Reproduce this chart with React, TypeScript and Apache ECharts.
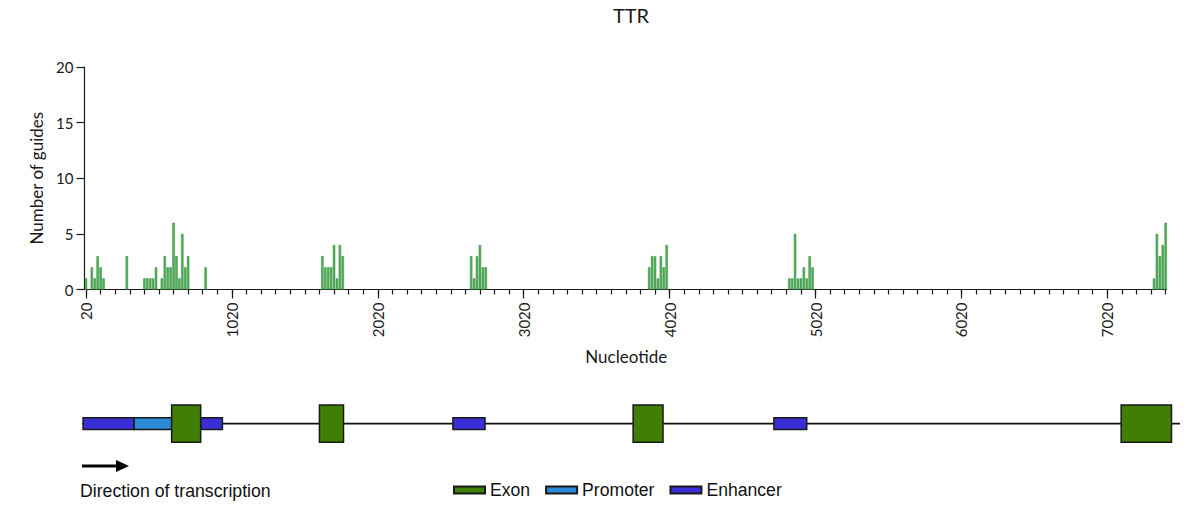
import React, { useEffect, useRef } from "react";
import * as echarts from "echarts";

// ---- Data ----
const geneName = "TTR";
const guidePositions = [
  20, 60, 80, 100, 120, 140, 300, 420, 440, 460, 480, 500, 540, 560, 580, 600, 620, 640, 660, 680, 700, 720, 840,
  1640, 1660, 1680, 1700, 1720, 1740, 1760, 1780,
  2660, 2680, 2700, 2720, 2740, 2760,
  3880, 3900, 3920, 3940, 3960, 3980, 4000,
  4840, 4860, 4880, 4900, 4920, 4940, 4960, 4980, 5000,
  7340, 7360, 7380, 7400, 7420,
];
const guideCounts = [
  1, 2, 1, 3, 2, 1, 3, 1, 1, 1, 1, 2, 1, 3, 2, 2, 6, 3, 1, 5, 2, 3, 2,
  3, 2, 2, 2, 4, 1, 4, 3,
  3, 1, 3, 4, 2, 2,
  2, 3, 3, 1, 3, 2, 4,
  1, 1, 5, 1, 1, 2, 1, 3, 2,
  1, 5, 3, 4, 6,
];
const xTickLabels = [20, 1020, 2020, 3020, 4020, 5020, 6020, 7020];
const yTicks = [0, 5, 10, 15, 20];

const exons = [
  [607, 806],
  [1620, 1785],
  [3770, 3975],
  [7115, 7460],
];
const promoters = [[350, 607]];
const enhancers = [
  [0, 350],
  [806, 955],
  [2535, 2755],
  [4735, 4960],
];
const geneSpan = [-5, 7518];

const X_MIN = 20;
const X_MAX = 7425;

const FONT = "Lato";
const FONT2 = "Liberation Sans";

export default function App() {
  const ref = useRef<HTMLDivElement>(null);

  useEffect(() => {
    if (!ref.current) return;
    const chart = echarts.init(ref.current, undefined, { renderer: "svg" });

    const minorTicks: number[] = [];
    for (let v = X_MIN; v <= X_MAX; v += 100) minorTicks.push(v);

    const rectSeries = (name: string, data: number[][], color: string, half: number, z: number) => ({
      name,
      type: "custom",
      xAxisIndex: 2,
      yAxisIndex: 1,
      z,
      itemStyle: { color, borderColor: "#1a1a1a", borderWidth: 1.5 },
      data,
      encode: { x: [0, 1] },
      renderItem: (params: any, api: any) => {
        const s = api.coord([api.value(0), 0]);
        const e = api.coord([api.value(1), 0]);
        return {
          type: "rect",
          shape: { x: s[0], y: s[1] - half, width: e[0] - s[0], height: half * 2 },
          style: { fill: color, stroke: "#1a1a1a", lineWidth: 1.5 },
        };
      },
    });

    const option: any = {
      animation: false,
      title: {
        text: geneName,
        left: 626,
        textAlign: "center",
        top: 0,
        textStyle: { fontFamily: FONT, fontSize: 20, fontWeight: "normal", color: "#1a1a1a" },
      },
      legend: {
        data: ["Exon", "Promoter", "Enhancer"],
        left: 453,
        top: 481,
        padding: 0,
        icon: "rect",
        itemWidth: 31,
        itemHeight: 7,
        itemGap: 15,
        textStyle: { fontFamily: FONT2, fontSize: 17.6, color: "#111" },
        selectedMode: false,
      },
      grid: [
        { left: 86, right: 1200 - 1166.4, top: 67, bottom: 505 - 289.5 },
        { left: 78.7, right: 18.3, top: 405, height: 37.3 },
      ],
      xAxis: [
        {
          type: "value",
          gridIndex: 0,
          min: X_MIN,
          max: X_MAX,
          position: "bottom",
          name: "Nucleotide",
          nameLocation: "middle",
          nameGap: 58,
          nameTextStyle: { fontFamily: FONT, fontSize: 17, color: "#1a1a1a" },
          axisLine: { show: true, lineStyle: { color: "#1a1a1a", width: 1.2 } },
          axisTick: { show: true, customValues: minorTicks, length: 5, lineStyle: { color: "#1a1a1a", width: 1.2 } },
          axisLabel: {
            customValues: xTickLabels,
            formatter: (v: number) => String(v),
            rotate: 90,
            margin: 13,
            fontFamily: FONT,
            fontSize: 15,
            color: "#1a1a1a",
          },
          splitLine: { show: false },
        },
        {
          type: "value",
          gridIndex: 0,
          min: X_MIN,
          max: X_MAX,
          position: "bottom",
          axisLine: { show: false },
          axisTick: { show: true, customValues: xTickLabels, length: 9, lineStyle: { color: "#1a1a1a", width: 1.2 } },
          axisLabel: { show: false },
          splitLine: { show: false },
        },
        {
          type: "value",
          gridIndex: 1,
          min: -30,
          max: 7530,
          show: false,
        },
      ],
      yAxis: [
        {
          type: "value",
          gridIndex: 0,
          min: yTicks[0],
          max: yTicks[yTicks.length - 1],
          interval: 5,
          offset: 1.5,
          name: "Number of guides",
          nameLocation: "middle",
          nameGap: 39,
          nameTextStyle: { fontFamily: FONT, fontSize: 17, color: "#1a1a1a" },
          axisLine: { show: true, lineStyle: { color: "#1a1a1a", width: 1.2 } },
          axisTick: { show: true, length: 8, lineStyle: { color: "#1a1a1a", width: 1.2 } },
          axisLabel: { margin: 11, fontFamily: FONT, fontSize: 15, color: "#1a1a1a" },
          splitLine: { show: false },
        },
        { type: "value", gridIndex: 1, min: -1, max: 1, show: false },
      ],
      series: [
        {
          name: "Guides",
          type: "bar",
          xAxisIndex: 0,
          yAxisIndex: 0,
          barWidth: 2.4,
          z: 3,
          itemStyle: { color: "#52b058", borderColor: "#2e8b3a", borderWidth: 0.5 },
          data: guidePositions.map((x, i) => [x, guideCounts[i]]),
        },
        {
          name: "gene",
          type: "line",
          xAxisIndex: 2,
          yAxisIndex: 1,
          symbol: "none",
          z: 1,
          lineStyle: { color: "#111", width: 1.8 },
          data: [
            [geneSpan[0], 0],
            [geneSpan[1], 0],
          ],
        },
        rectSeries("Enhancer", enhancers, "#3a2fd6", 5.8, 2),
        rectSeries("Promoter", promoters, "#2c8ad6", 5.8, 3),
        rectSeries("Exon", exons, "#3f7f05", 18.6, 4),
      ],
      graphic: [
        {
          type: "polyline",
          shape: { points: [[82, 466], [118, 466]] },
          style: { stroke: "#000", lineWidth: 3 },
        },
        {
          type: "polygon",
          shape: { points: [[116, 460], [129, 466], [116, 472]] },
          style: { fill: "#000" },
        },
        {
          type: "text",
          x: 80,
          y: 491,
          style: {
            text: "Direction of transcription",
            fontFamily: FONT2,
            fontSize: 17.7,
            fill: "#111",
            verticalAlign: "middle",
            align: "left",
          },
        },
      ],
    };

    chart.setOption(option);
    return () => chart.dispose();
  }, []);

  return (
    <div
      ref={ref}
      style={{ position: "fixed", left: 0, top: 0, width: 1200, height: 505, background: "#fff" }}
    />
  );
}
